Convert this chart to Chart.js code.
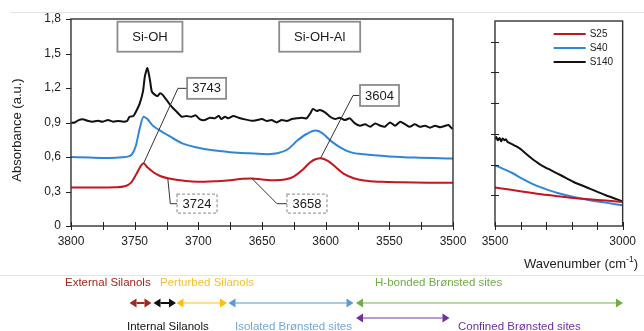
<!DOCTYPE html>
<html>
<head>
<meta charset="utf-8">
<script src="https://cdn.jsdelivr.net/npm/chart.js@4.4.1/dist/chart.umd.min.js"></script>
<style>
  html, body { margin: 0; padding: 0; background: #fff; }
  #wrap { position: relative; width: 644px; height: 331px; overflow: hidden; }
  #wrap canvas { position: absolute; left: 0; top: 0; }
</style>
</head>
<body>
<div id="wrap">
  <canvas id="main" width="644" height="331"></canvas>
  <canvas id="side" width="644" height="331"></canvas>
</div>
<script>
// ---- OH stretching region, 3800–3500 cm-1 ----
const s25Wn  = [3800,3780,3765,3758,3753,3749,3745,3743,3740,3735,3730,3724,3716,3705,3695,3685,3675,3665,3658,3650,3640,3632,3625,3618,3612,3608,3604,3598,3592,3586,3578,3570,3556,3540,3520,3500];
const s25Abs = [0.335,0.335,0.337,0.345,0.375,0.445,0.525,0.545,0.51,0.465,0.435,0.415,0.40,0.387,0.385,0.39,0.398,0.41,0.414,0.405,0.398,0.405,0.43,0.49,0.555,0.58,0.59,0.565,0.51,0.455,0.415,0.395,0.384,0.38,0.377,0.375];

const s40Wn  = [3800,3785,3770,3760,3755,3752,3749,3746,3743,3740,3736,3730,3724,3713,3700,3690,3675,3660,3645,3638,3630,3622,3615,3608,3603,3596,3588,3580,3570,3550,3530,3500];
const s40Abs = [0.60,0.595,0.592,0.597,0.605,0.625,0.70,0.85,0.95,0.93,0.875,0.83,0.79,0.72,0.68,0.66,0.642,0.632,0.625,0.632,0.665,0.745,0.80,0.83,0.81,0.74,0.68,0.64,0.623,0.605,0.595,0.588];

const s140Wn  = [3800,3797,3794,3790,3787,3783,3779,3775,3771,3767,3763,3759,3756,3754,3751,3749,3746,3743.5,3742,3740,3738,3736.5,3734,3732,3730,3728,3725,3721,3717,3713,3709.5,3705.5,3702,3699,3695,3691,3687,3684,3682,3679,3676.5,3672.5,3668.5,3663.5,3658,3654,3650,3646,3642.5,3638.5,3634.5,3630.5,3626.5,3623,3619,3615,3612,3610,3607,3604.5,3600.5,3596.5,3592.5,3589,3585,3581,3577,3573,3569,3565,3561,3557,3553.5,3549.5,3545.5,3541.5,3537.5,3534,3530,3526,3522,3518,3514,3510,3506,3503.5,3501,3500];
const s140Abs = [0.898,0.90,0.921,0.927,0.915,0.907,0.915,0.907,0.921,0.907,0.913,0.907,0.913,0.95,0.956,0.994,1.067,1.168,1.30,1.373,1.27,1.168,1.14,1.131,1.154,1.14,1.096,1.038,0.994,0.95,0.956,0.95,0.962,0.93,0.921,0.942,0.936,0.959,0.93,0.95,0.936,0.956,0.942,0.927,0.915,0.921,0.93,0.913,0.921,0.901,0.921,0.913,0.93,0.936,0.942,0.936,0.98,1.018,1.0,1.008,0.988,0.95,0.93,0.942,0.921,0.936,0.892,0.872,0.884,0.863,0.892,0.872,0.863,0.901,0.872,0.907,0.884,0.863,0.884,0.863,0.872,0.855,0.872,0.858,0.872,0.878,0.85,0.845];

// ---- 3500–3000 cm-1 window ----
const s25WnLow  = [3500,3444,3381,3318,3255,3192,3129,3066,3000];
const s25AbsLow = [0.375,0.355,0.332,0.309,0.29,0.273,0.26,0.248,0.234];
const s40WnLow  = [3500,3470,3432,3394,3356,3306,3255,3192,3129,3066,3000];
const s40AbsLow = [0.592,0.56,0.517,0.462,0.414,0.365,0.322,0.283,0.251,0.228,0.202];
const s140WnLow  = [3500,3495,3489,3482,3476,3470,3463,3457,3451,3438,3425,3413,3394,3375,3356,3337,3318,3280,3242,3192,3129,3066,3000];
const s140AbsLow = [0.846,0.868,0.836,0.859,0.826,0.853,0.836,0.846,0.82,0.804,0.787,0.771,0.739,0.697,0.658,0.624,0.592,0.543,0.495,0.429,0.365,0.3,0.241];

const seriesNames = ['S25', 'S40', 'S140'];
const seriesColors = ['#c4161c', '#2f86d8', '#111111'];

// ---- axis ticks ----
const mainXLabels = [3800, 3750, 3700, 3650, 3600, 3550, 3500];
const mainXMarks  = [3800, 3775, 3750, 3725, 3700, 3675, 3650, 3625, 3600, 3575, 3550, 3525, 3500];
const mainYTicks  = [0, 0.3, 0.6, 0.9, 1.2, 1.5, 1.8];
const mainYLabels = ['0', '0,3', '0,6', '0,9', '1,2', '1,5', '1,8'];
const sideXLabels = [3500, 3000];
const sideXMarks  = [3500, 3400, 3300, 3200, 3100, 3000];
const sideYMarks  = [0.3, 0.6, 0.9, 1.2, 1.5, 1.8];

// ---- band annotations ----
const bandTitles = ['Si-OH', 'Si-OH-Al'];
const peakLabels = ['3743', '3724', '3658', '3604'];
const peakPositions = [3743, 3724, 3658, 3604];

const FONT = "'Liberation Sans', Arial, Helvetica, sans-serif";
Chart.defaults.font.family = FONT;
Chart.defaults.color = '#222';
Chart.defaults.animation = false;

const pts = (xs, ys) => xs.map((v, i) => ({ x: v, y: ys[i] }));

function makeDataset(i, xs, ys, smooth) {
  return {
    label: seriesNames[i],
    data: pts(xs, ys),
    borderColor: seriesColors[i],
    backgroundColor: seriesColors[i],
    borderWidth: 2,
    pointRadius: 0,
    tension: smooth ? 0.4 : 0.2,
    cubicInterpolationMode: smooth ? 'monotone' : 'default',
    fill: false
  };
}

function labelBox(ctx, cx, cy, w, h, text, dashed, size) {
  ctx.save();
  ctx.fillStyle = '#fff';
  ctx.fillRect(cx - w / 2, cy - h / 2, w, h);
  ctx.strokeStyle = dashed ? '#a0a0a0' : '#8c8c8c';
  ctx.lineWidth = dashed ? 1.3 : 1.8;
  ctx.setLineDash(dashed ? [3, 2] : []);
  ctx.strokeRect(cx - w / 2, cy - h / 2, w, h);
  ctx.setLineDash([]);
  ctx.fillStyle = '#1a1a1a';
  ctx.font = size + 'px ' + FONT;
  ctx.textAlign = 'center';
  ctx.textBaseline = 'middle';
  ctx.fillText(text, cx, cy + 0.5);
  ctx.restore();
}

function doubleArrow(ctx, x1, x2, y, head, shaft) {
  const w = 7, h = 4.5;
  ctx.save();
  if (x2 - x1 > 2 * w) {
    ctx.strokeStyle = shaft;
    ctx.lineWidth = 2;
    ctx.beginPath();
    ctx.moveTo(x1 + w, y);
    ctx.lineTo(x2 - w, y);
    ctx.stroke();
  }
  ctx.fillStyle = head;
  ctx.beginPath();
  ctx.moveTo(x1, y); ctx.lineTo(x1 + w, y - h); ctx.lineTo(x1 + w, y + h); ctx.closePath();
  ctx.moveTo(x2, y); ctx.lineTo(x2 - w, y - h); ctx.lineTo(x2 - w, y + h); ctx.closePath();
  ctx.fill();
  ctx.restore();
}

function drawFrame(ctx, a) {
  ctx.strokeStyle = '#333';
  ctx.lineWidth = 1.4;
  ctx.strokeRect(a.left, a.top, a.right - a.left, a.bottom - a.top);
}

const mainDecor = {
  id: 'mainDecor',
  afterDatasetsDraw(chart) {
    const { ctx, chartArea: a, scales: { x, y } } = chart;
    ctx.save();
    drawFrame(ctx, a);
    ctx.strokeStyle = '#222';
    ctx.lineWidth = 1;
    ctx.beginPath();
    mainXMarks.forEach(v => {
      const px = Math.round(x.getPixelForValue(v)) + 0.5;
      ctx.moveTo(px, a.bottom - 4); ctx.lineTo(px, a.bottom + 4);
    });
    mainYTicks.forEach(v => {
      const py = Math.round(y.getPixelForValue(v)) + 0.5;
      ctx.moveTo(a.left - 5, py); ctx.lineTo(a.left, py);
    });
    ctx.stroke();

    // band headers
    labelBox(ctx, x.getPixelForValue(3738), y.getPixelForValue(1.646), 65, 30, bandTitles[0], false, 13);
    labelBox(ctx, x.getPixelForValue(3604.7), y.getPixelForValue(1.646), 81, 30, bandTitles[1], false, 13);

    // peak callouts on the S25 trace
    const callouts = [
      { box: [3693.5, 1.197], elbow: [3716, 1.197], w: 39, h: 21, dashed: false },
      { box: [3701, 0.194],   elbow: [3722, 0.194], w: 40, h: 19, dashed: true },
      { box: [3614.7, 0.194], elbow: [3638.2, 0.194], w: 40, h: 19, dashed: true },
      { box: [3557.7, 1.135], elbow: [3578.5, 1.135], w: 39, h: 21, dashed: false }
    ];
    callouts.forEach((c, i) => {
      const wn = peakPositions[i];
      const k = s25Wn.indexOf(wn);
      const ax = x.getPixelForValue(wn), ay = y.getPixelForValue(s25Abs[k]);
      const bx = x.getPixelForValue(c.box[0]), by = y.getPixelForValue(c.box[1]);
      const ex = x.getPixelForValue(c.elbow[0]), ey = y.getPixelForValue(c.elbow[1]);
      ctx.strokeStyle = '#333';
      ctx.lineWidth = 1;
      ctx.beginPath();
      ctx.moveTo(ax, ay); ctx.lineTo(ex, ey); ctx.lineTo(bx - c.w / 2, by);
      ctx.stroke();
      labelBox(ctx, bx, by, c.w, c.h, peakLabels[i], c.dashed, 13);
    });
    ctx.restore();
  },
  afterDraw(chart) {
    const ctx = chart.ctx;
    ctx.save();
    // thin rules across the figure
    ctx.strokeStyle = '#e4e4e4';
    ctx.lineWidth = 1;
    ctx.beginPath();
    ctx.moveTo(10, 12.5); ctx.lineTo(644, 12.5);
    ctx.moveTo(0, 275.5); ctx.lineTo(644, 275.5);
    ctx.stroke();

    // y-axis title
    ctx.fillStyle = '#222';
    ctx.font = '13px ' + FONT;
    ctx.textAlign = 'center';
    ctx.textBaseline = 'middle';
    ctx.translate(17, 130);
    ctx.rotate(-Math.PI / 2);
    ctx.fillText('Absorbance (a.u.)', 0, 0);
    ctx.setTransform(1, 0, 0, 1, 0, 0);

    // site assignment ranges
    doubleArrow(ctx, 129.5, 151.5, 303, '#a3271b', '#a3271b');
    doubleArrow(ctx, 153.5, 176, 303, '#111', '#111');
    doubleArrow(ctx, 176.5, 227, 303, '#ffc000', '#ffe08a');
    doubleArrow(ctx, 228.5, 353.5, 303, '#5b9bd5', '#a9cbea');
    doubleArrow(ctx, 356, 623, 303, '#70ad47', '#b9d9a3');
    doubleArrow(ctx, 356, 449.5, 318, '#7030a0', '#b79bd3');

    ctx.font = '11.5px ' + FONT;
    ctx.textAlign = 'left';
    ctx.textBaseline = 'middle';
    const notes = [
      ['External Silanols', 65, 283, '#a3271b'],
      ['Perturbed Silanols', 160, 283, '#f8c030'],
      ['H-bonded Br\u00f8nsted sites', 375, 283, '#70ad47'],
      ['Internal Silanols', 127, 327, '#111'],
      ['Isolated Br\u00f8nsted sites', 235, 327, '#6fa8dc'],
      ['Confined Br\u00f8nsted sites', 458, 327, '#7030a0']
    ];
    notes.forEach(n => { ctx.fillStyle = n[3]; ctx.fillText(n[0], n[1], n[2]); });
    ctx.restore();
  }
};

const sideDecor = {
  id: 'sideDecor',
  afterDatasetsDraw(chart) {
    const { ctx, chartArea: a, scales: { x, y } } = chart;
    ctx.save();
    drawFrame(ctx, a);
    ctx.strokeStyle = '#222';
    ctx.lineWidth = 1;
    ctx.beginPath();
    sideXMarks.forEach(v => {
      const px = Math.round(x.getPixelForValue(v)) + 0.5;
      ctx.moveTo(px, a.bottom - 4); ctx.lineTo(px, a.bottom + 4);
    });
    sideYMarks.forEach(v => {
      const py = Math.round(y.getPixelForValue(v)) + 0.5;
      ctx.moveTo(a.left - 4, py); ctx.lineTo(a.left + 4, py);
    });
    ctx.stroke();

    // legend
    ctx.font = '10px ' + FONT;
    ctx.textAlign = 'left';
    ctx.textBaseline = 'middle';
    chart.data.datasets.forEach((ds, i) => {
      const ly = a.top + 13 + i * 14;
      ctx.strokeStyle = ds.borderColor;
      ctx.lineWidth = 2;
      ctx.beginPath();
      ctx.moveTo(a.right - 69, ly); ctx.lineTo(a.right - 37, ly);
      ctx.stroke();
      ctx.fillStyle = '#222';
      ctx.fillText(ds.label, a.right - 33, ly);
    });

    // x-axis title with superscript
    ctx.font = '13px ' + FONT;
    ctx.fillStyle = '#222';
    const base = 'Wavenumber (cm';
    let tx = 524;
    const ty = 264;
    ctx.fillText(base, tx, ty);
    tx += ctx.measureText(base).width;
    ctx.font = '8.5px ' + FONT;
    ctx.fillText('-1', tx, ty - 4);
    tx += ctx.measureText('-1').width;
    ctx.font = '13px ' + FONT;
    ctx.fillText(')', tx, ty);
    ctx.restore();
  }
};

const commonPlugins = {
  legend: { display: false },
  tooltip: { enabled: false }
};

new Chart(document.getElementById('main'), {
  type: 'line',
  data: {
    datasets: [
      makeDataset(0, s25Wn, s25Abs, true),
      makeDataset(1, s40Wn, s40Abs, true),
      makeDataset(2, s140Wn, s140Abs, false)
    ]
  },
  options: {
    responsive: false,
    events: [],
    layout: { padding: { left: 0, right: 191, top: 19, bottom: 0 } },
    plugins: commonPlugins,
    scales: {
      x: {
        type: 'linear',
        reverse: true,
        min: 3500, max: 3800,
        grid: { display: false, drawTicks: false },
        border: { display: false },
        ticks: {
          stepSize: 50,
          autoSkip: false,
          maxRotation: 0,
          padding: 8,
          font: { size: 12 },
          color: '#222',
          callback: v => mainXLabels.includes(v) ? String(v) : ''
        },
        afterFit: s => { s.height = 105; }
      },
      y: {
        min: 0, max: 1.8,
        grid: { display: false, drawTicks: false },
        border: { display: false },
        ticks: {
          stepSize: 0.3,
          padding: 10,
          font: { size: 12 },
          color: '#222',
          callback: v => {
            const k = mainYTicks.findIndex(t => Math.abs(t - v) < 1e-6);
            return k >= 0 ? mainYLabels[k] : '';
          }
        },
        afterFit: s => { s.width = 71; }
      }
    }
  },
  plugins: [mainDecor]
});

new Chart(document.getElementById('side'), {
  type: 'line',
  data: {
    datasets: [
      makeDataset(0, s25WnLow, s25AbsLow, true),
      makeDataset(1, s40WnLow, s40AbsLow, true),
      makeDataset(2, s140WnLow, s140AbsLow, false)
    ]
  },
  options: {
    responsive: false,
    events: [],
    layout: { padding: { left: 495, right: 17, top: 21, bottom: 0 } },
    plugins: commonPlugins,
    scales: {
      x: {
        type: 'linear',
        reverse: true,
        min: 3000, max: 3500,
        grid: { display: false, drawTicks: false },
        border: { display: false },
        ticks: {
          stepSize: 100,
          autoSkip: false,
          maxRotation: 0,
          padding: 8,
          font: { size: 12 },
          color: '#222',
          callback: v => sideXLabels.includes(v) ? String(v) : ''
        },
        afterFit: s => { s.height = 105; }
      },
      y: {
        min: 0, max: 2,
        grid: { display: false, drawTicks: false },
        border: { display: false },
        ticks: { display: false },
        afterFit: s => { s.width = 0; }
      }
    }
  },
  plugins: [sideDecor]
});
</script>
</body>
</html>
